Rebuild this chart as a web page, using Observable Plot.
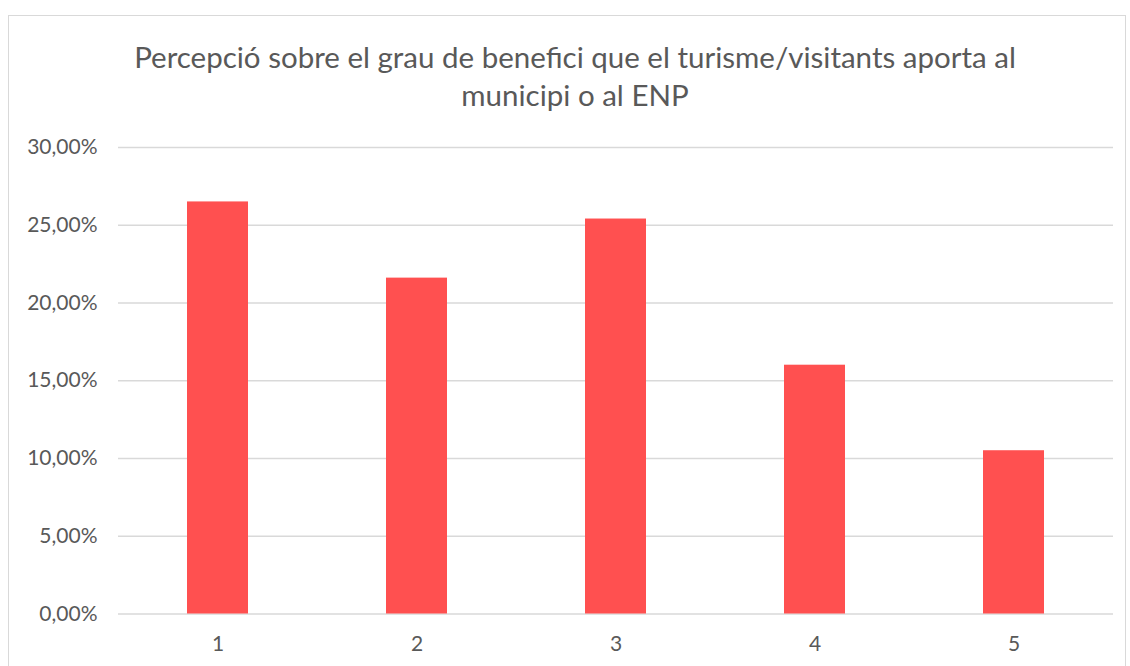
<!DOCTYPE html>
<html>
<head>
<meta charset="utf-8">
<script src="https://cdn.jsdelivr.net/npm/d3@7"></script>
<script src="https://cdn.jsdelivr.net/npm/@observablehq/plot@0.6"></script>
<style>
  body { margin: 0; background: #fff; }
  #wrap { position: relative; width: 1130px; height: 666px; overflow: hidden; font-family: Lato, "Open Sans", sans-serif; }
  #frame { position: absolute; left: 8px; top: 15px; width: 1118px; height: 700px; border: 1px solid #d9d9d9; box-sizing: border-box; }
  #title { position: absolute; left: 0; top: 38px; width: 1150px; text-align: center; font-size: 29.5px; line-height: 38px; color: #595959; font-weight: 400; }
  #chart { position: absolute; left: 0; top: 0; }
</style>
</head>
<body>
<div id="wrap">
  <div id="frame"></div>
  <div id="chart"></div>
  <div id="title">Percepció sobre el grau de benefici que el turisme/visitants aporta al<br>municipi o al ENP</div>
</div>
<script>
const categories = ["1", "2", "3", "4", "5"];
const values = [26.5, 21.6, 25.4, 16.0, 10.5];
const yTicks = [0, 5, 10, 15, 20, 25, 30];

const data = categories.map((c, i) => ({cat: c, value: values[i]}));
const fmt = d => d.toFixed(2).replace(".", ",") + "%";

const chart = Plot.plot({
  width: 1130,
  height: 666,
  marginTop: 147,
  marginBottom: 52.5,
  marginLeft: 118,
  marginRight: 17,
  style: {fontFamily: "Lato, 'Open Sans', sans-serif", color: "#595959", background: "transparent"},
  x: {domain: categories, paddingInner: 0.693, paddingOuter: 0.3465},
  y: {domain: [0, 30]},
  marks: [
    Plot.ruleY(yTicks, {stroke: "#d9d9d9", strokeWidth: 1.5}),
    Plot.barY(data, {x: "cat", y: "value", fill: "#FF5050"}),
    Plot.axisY(yTicks, {tickSize: 0, tickPadding: 21, tickFormat: fmt, fontSize: 21, label: null}),
    Plot.axisX({tickSize: 0, tickPadding: 22, fontSize: 21, label: null})
  ]
});
document.getElementById("chart").appendChild(chart);
</script>
</body>
</html>
